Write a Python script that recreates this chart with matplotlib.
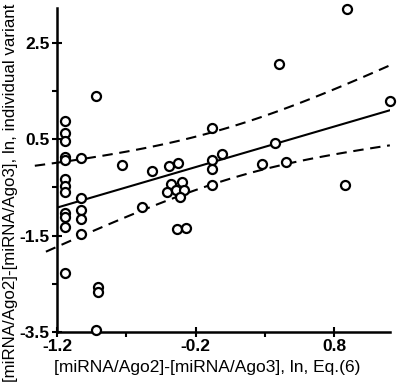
import matplotlib
matplotlib.use("Agg")
import matplotlib.pyplot as plt
import numpy as np
from matplotlib.ticker import FixedLocator

plt.rcParams['font.family'] = ['Liberation Sans', 'DejaVu Sans']

# points
x_vals = [-1.14, -1.14, -1.14, -1.14, -1.14, -1.14, -1.14, -1.14, -1.14, -1.14, -1.14, -1.14,
          -1.03, -1.03, -1.03, -1.03, -1.03,
          -0.92, -0.905, -0.905, -0.92,
          -0.73, -0.586, -0.514,
          -0.393, -0.33, -0.38, -0.30, -0.405, -0.345, -0.285, -0.316, -0.333, -0.27,
          -0.084, -0.084, -0.084, -0.084, -0.01,
          0.28, 0.45, 0.37, 0.40, 0.89, 0.88, 1.20]
y_vals = [0.88, 0.62, 0.46, 0.14, 0.07, -0.33, -0.48, -0.60, -1.03, -1.11, -1.32, -2.28,
          0.12, -0.72, -0.96, -1.15, -1.46,
          1.39, -2.56, -2.68, -3.45,
          -0.03, -0.90, -0.17,
          -0.05, 0.00, -0.43, -0.38, -0.59, -0.55, -0.55, -0.70, -1.37, -1.34,
          0.74, 0.07, -0.12, -0.45, 0.19,
          -0.02, 0.02, 0.43, 2.06, 3.20, -0.46, 1.30]

# regression line (ends)
fit_x = [-1.2, 1.2]
fit_y = [-0.92, 1.10]

# confidence bands: half-width = sqrt(a^2 + b^2 (x - c)^2), x-range
upper_band = dict(a=0.62, b=0.58, c=0.0, x0=-1.36, x1=1.225)
lower_band = dict(a=0.45, b=0.52, c=0.1, x0=-1.28, x1=1.20)

x_ticks = [-1.2, -0.2, 0.8]
y_ticks = [2.5, 0.5, -1.5, -3.5]
x_minor = [-0.7, 0.3]
y_minor = [1.5, -0.5, -2.5]

slope = (fit_y[1] - fit_y[0]) / (fit_x[1] - fit_x[0])
intercept = fit_y[0] - slope * fit_x[0]

fig = plt.figure(figsize=(3.97, 3.85), dpi=100)
ax = fig.add_axes([0.1436, 0.1377, 0.8384, 0.8413])

ax.plot(fit_x, fit_y, color='black', lw=1.5, zorder=2)

for band, sign in ((upper_band, 1), (lower_band, -1)):
    xb = np.linspace(band['x0'], band['x1'], 100)
    half = np.sqrt(band['a'] ** 2 + band['b'] ** 2 * (xb - band['c']) ** 2)
    ax.plot(xb, slope * xb + intercept + sign * half, color='black', lw=1.5,
            ls=(0, (5, 3.2)), clip_on=False, zorder=2)

ax.plot(x_vals, y_vals, 'o', ms=6.5, mfc='white', mec='black', mew=1.6,
        clip_on=False, zorder=3)

ax.set_xlim(-1.2, 1.2)
ax.set_ylim(-3.5, 3.22)
ax.spines['top'].set_visible(False)
ax.spines['right'].set_visible(False)
ax.spines['left'].set_linewidth(1.8)
ax.spines['bottom'].set_linewidth(1.8)

ax.set_xticks(x_ticks)
ax.set_yticks(y_ticks)
ax.xaxis.set_minor_locator(FixedLocator(x_minor))
ax.yaxis.set_minor_locator(FixedLocator(y_minor))
ax.set_xticklabels([str(v) for v in x_ticks], fontweight='bold', fontsize=12.5)
ax.set_yticklabels([str(v) for v in y_ticks], fontweight='bold', fontsize=12.5)
ax.tick_params(which='major', direction='inout', length=6.5, width=1.5, pad=2)
ax.tick_params(which='minor', direction='out', length=3.5, width=1.5)

fig.text(0.5214, 0.034, '[miRNA/Ago2]-[miRNA/Ago3], ln, Eq.(6)', fontsize=12.5,
         ha='center', va='baseline')
fig.text(0.026, 0.5, '[miRNA/Ago2]-[miRNA/Ago3], ln, individual variant',
         fontsize=12.2, rotation=90, ha='center', va='center')

fig.savefig('out.png', dpi=100)
